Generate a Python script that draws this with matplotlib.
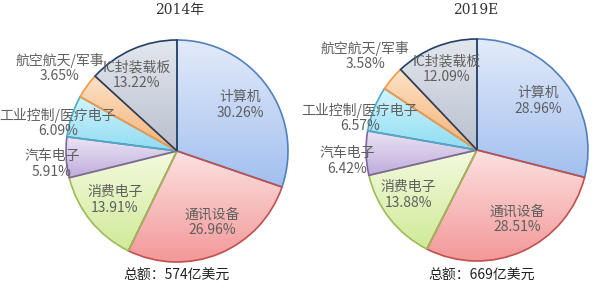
import matplotlib
matplotlib.use("Agg")
import numpy as np
import matplotlib.pyplot as plt
from matplotlib.colors import LinearSegmentedColormap

plt.rcParams['font.family'] = ['Noto Sans CJK SC', 'DejaVu Sans']

# --- データ ---
categories = ['计算机', '通讯设备', '消费电子', '汽车电子', '工业控制/医疗电子', '航空航天/军事', 'IC封装载板']
share_2014 = [30.26, 26.96, 13.91, 5.91, 6.09, 3.65, 13.22]
share_2019 = [28.96, 28.51, 13.88, 6.42, 6.57, 3.58, 12.09]
titles = ['2014年', '2019E']
totals = ['总额：574亿美元', '总额：669亿美元']

# --- 色（グラデーション：上→下） ---
top_colors = ['#e3ebf9', '#fde2e2', '#f3fadf', '#ebe4f4', '#d2f5fd', '#fde2c8', '#e3e7ee']
bottom_colors = ['#a2bff0', '#f39898', '#d0ea98', '#bfaddb', '#8edcf3', '#f8b274', '#b8c0cd']
edge_colors = ['#4f81bd', '#c0504d', '#9bbb59', '#8064a2', '#4bacc6', '#f79646', '#243f66']

H = 288
fig = plt.figure(figsize=(6, 2.88), dpi=100)
ax = fig.add_axes([0, 0, 1, 1])

# 円の中心・半径（ピクセル）
centers = [(177, H - 151), (477, H - 150)]
radius = 111

# ラベル位置（ピクセル, 上端基準）
label_pos = [
    [(240, 105), (212, 222), (115, 200), (52, 164), (58, 123), (60, 68), (137, 75)],
    [(538, 101), (517, 219), (408, 195), (347, 161), (360, 118), (365, 56), (447, 69)],
]
title_x = [180, 476]
total_x = [176, 482]

grad = np.linspace(0, 1, 256).reshape(-1, 1)

for i, shares in enumerate([share_2014, share_2019]):
    wedges, _ = ax.pie(shares, center=centers[i], radius=radius, startangle=90,
                       counterclock=False, colors=['none'] * len(shares),
                       wedgeprops=dict(linewidth=1.2))
    for k, w in enumerate(wedges):
        w.set_edgecolor(edge_colors[k])
        w.set_zorder(3)
        verts = w.get_patch_transform().transform(w.get_path().vertices)
        x0, y0 = verts.min(axis=0)
        x1, y1 = verts.max(axis=0)
        cmap = LinearSegmentedColormap.from_list('g', [top_colors[k], bottom_colors[k]])
        im = ax.imshow(grad, cmap=cmap, extent=(x0, x1, y0, y1), origin='upper',
                       aspect='auto', zorder=2, interpolation='bilinear')
        im.set_clip_path(w)
    for name, v, (x, y) in zip(categories, shares, label_pos[i]):
        ax.text(x, H - y, f"{name}\n{v:.2f}%", ha='center', va='center',
                fontsize=10, color='#5f5f5f', linespacing=1.1, zorder=5)
    ax.text(title_x[i], H - 10, titles[i], ha='center', va='center',
            fontsize=10, color='#333333', family=['DejaVu Serif', 'Noto Sans CJK SC'])
    ax.text(total_x[i], H - 276, totals[i], ha='center', va='center',
            fontsize=10, color='#222222')

ax.set_xlim(0, 600)
ax.set_ylim(0, H)
ax.set_aspect('equal')
ax.axis('off')

fig.savefig("out.png", dpi=100)
